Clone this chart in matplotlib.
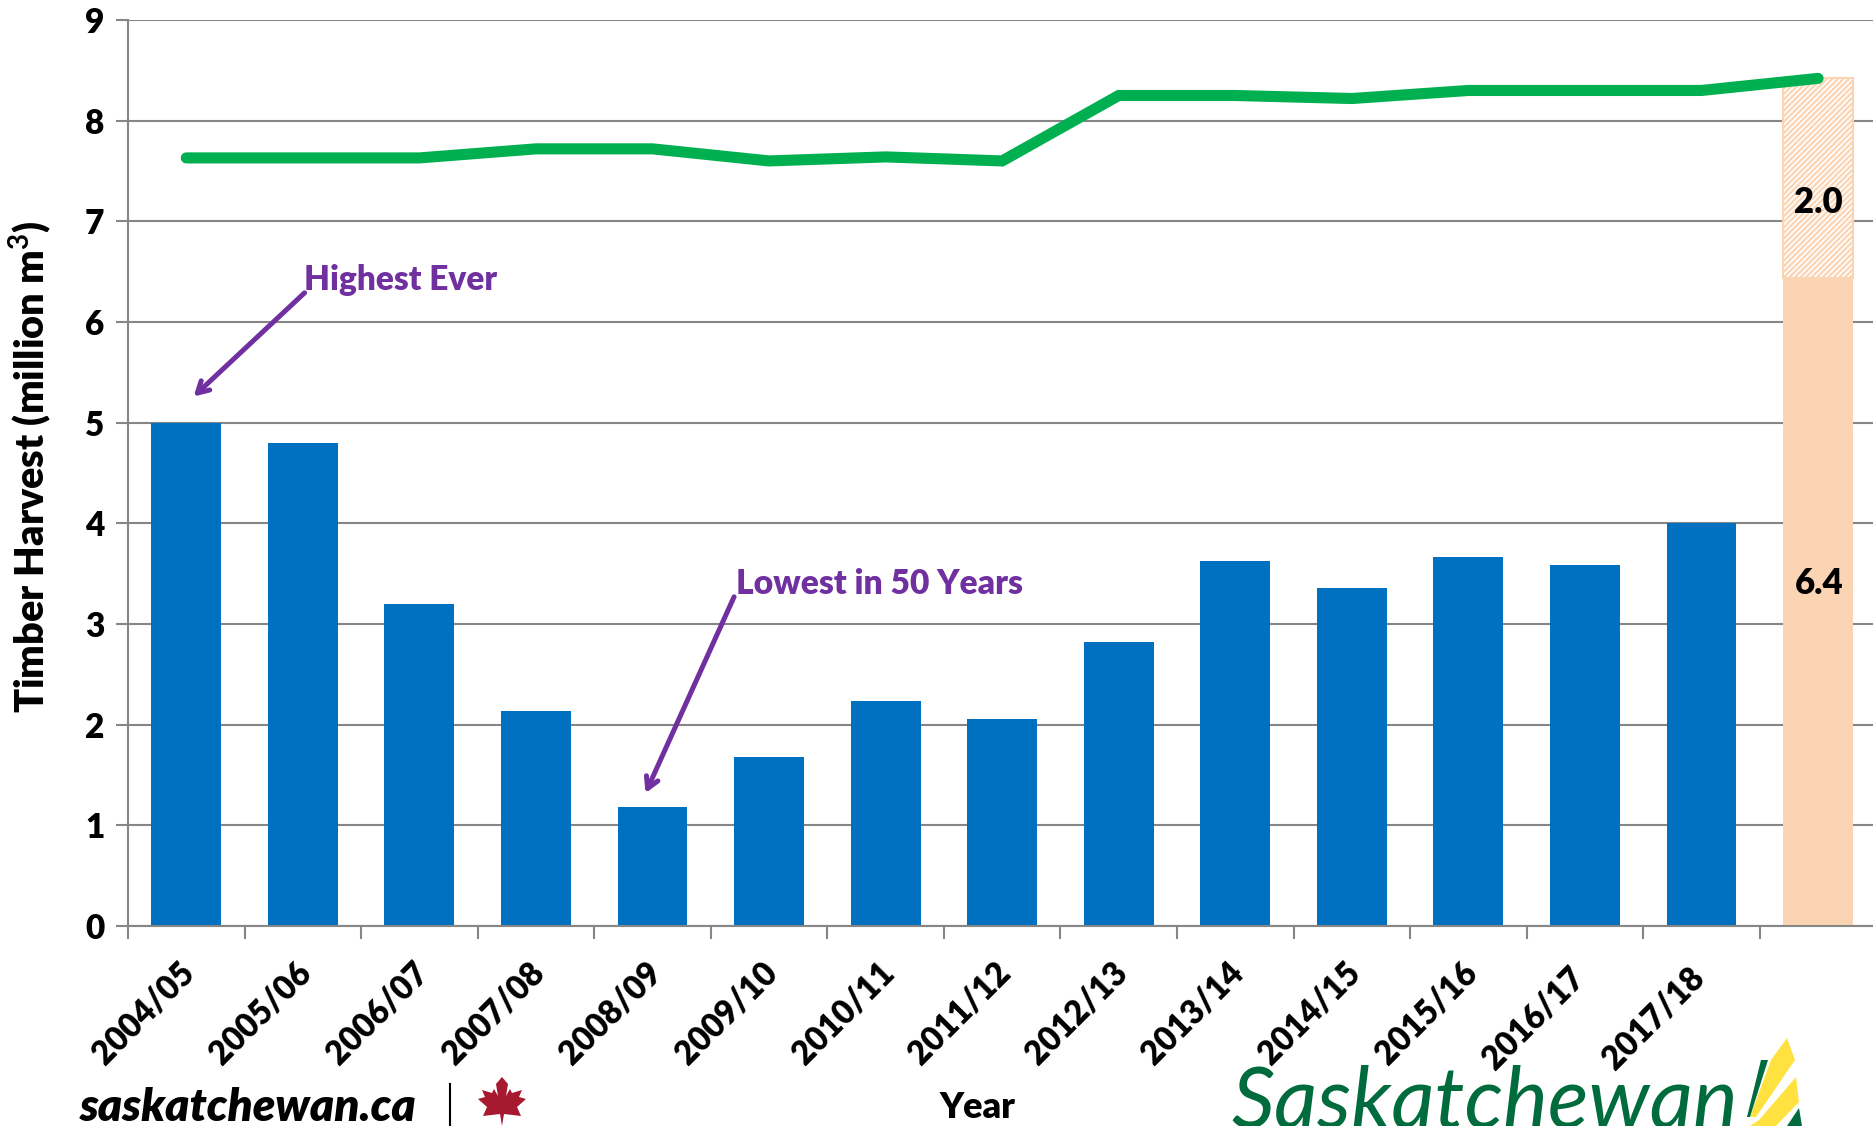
import matplotlib
matplotlib.use("Agg")
import matplotlib.pyplot as plt
from matplotlib.patches import Polygon
from matplotlib.transforms import ScaledTranslation

plt.rcParams['font.family'] = ['Lato', 'DejaVu Sans']
plt.rcParams['hatch.linewidth'] = 1.6
plt.rcParams['mathtext.fontset'] = 'custom'
plt.rcParams['mathtext.bf'] = 'Lato:bold'

years = ['2004/05','2005/06','2006/07','2007/08','2008/09','2009/10','2010/11',
         '2011/12','2012/13','2013/14','2014/15','2015/16','2016/17','2017/18']
harvest = [5.0,4.8,3.2,2.14,1.18,1.68,2.24,2.06,2.82,3.63,3.36,3.67,3.59,4.0]
aac = [7.63,7.63,7.63,7.72,7.72,7.6,7.64,7.6,8.25,8.25,8.22,8.3,8.3,8.3,8.42]
plan_base = [6.44]
plan_extra = [1.98]
label_dx = [-8]*12 + [-17, -14]
label_dy = [0]*12 + [-5, -5]

W, H = 1874, 1126
fig = plt.figure(figsize=(W/100, H/100), dpi=100, facecolor='white')
x0, x1, ytop, ybot = 128, 1874, 20, 926
ax = fig.add_axes([x0/W, 1-ybot/H, (x1-x0)/W, (ybot-ytop)/H])
GREY = '#868686'
BLUE = '#0070C0'
PEACH = '#FBD4B4'
PURPLE = '#7030A0'
WT = 800

ax.set_xlim(-0.5, 14.48)
ax.set_ylim(0, 9)
ax.set_yticks(range(10))
ax.grid(axis='y', color=GREY, lw=1.5, zorder=0)
ax.set_axisbelow(True)
ax.bar(range(14), harvest, width=0.6, color=BLUE, zorder=2)
ax.bar([14], plan_base, width=0.6, color=PEACH, zorder=2)
ax.bar([14], plan_extra, bottom=plan_base, width=0.6, facecolor='white',
       edgecolor=PEACH, hatch='//////', lw=1.5, zorder=2)
ax.plot(range(15), aac, color='#00B050', lw=8, solid_capstyle='round',
        solid_joinstyle='miter', zorder=3)

for s in ('top', 'right'):
    ax.spines[s].set_visible(False)
for s in ('left', 'bottom'):
    ax.spines[s].set_color(GREY)
    ax.spines[s].set_linewidth(1.5)

ax.set_xticks([i-0.5 for i in range(15)])
ax.set_xticklabels([])
ax.tick_params(axis='x', which='major', length=9, width=1.5, color=GREY)
ax.tick_params(axis='y', length=9, width=1.5, color=GREY, labelsize=24, pad=8)
for t in ax.get_yticklabels():
    t.set_fontweight(WT)

ax.set_xticks(range(14), minor=True)
ax.set_xticklabels(years, minor=True, rotation=45, ha='right', va='top',
                   rotation_mode='anchor', fontsize=23.5, fontweight=WT)
ax.tick_params(axis='x', which='minor', length=0, pad=22)
for t, dx, dy in zip(ax.get_xticklabels(minor=True), label_dx, label_dy):
    t.set_transform(t.get_transform() + ScaledTranslation(dx/100, dy/100, fig.dpi_scale_trans))

ax.set_ylabel('Timber Harvest (million m$^{\\mathbf{3}}$)', fontsize=28.5, fontweight=WT)
ax.yaxis.set_label_coords(-0.0425, 0.507)

ax.text(14, 7.19, '2.0', ha='center', va='center', fontsize=25, fontweight=WT, zorder=5)
ax.text(14.01, 3.40, '6.4', ha='center', va='center', fontsize=25, fontweight=WT, zorder=5)
ax.text(1.01, 6.42, 'Highest Ever', color=PURPLE, fontsize=24, fontweight=WT, va='center')
ax.text(4.72, 3.40, 'Lowest in 50 Years', color=PURPLE, fontsize=24.2, fontweight=WT, va='center')
arrow = dict(arrowstyle='->,head_length=0.8,head_width=0.45', color=PURPLE, lw=3.6, shrinkA=0, shrinkB=0)
ax.annotate('', xy=(0.063, 5.26), xytext=(1.015, 6.29), arrowprops=arrow)
ax.annotate('', xy=(3.94, 1.32), xytext=(4.70, 3.27), arrowprops=arrow)

# footer
def ft(x, y):
    return x/W, 1-y/H
fig.text(*ft(977, 1108), 'Year', ha='center', va='center', fontsize=26, fontweight=WT)
fig.text(*ft(80, 1108), 'saskatchewan.ca', ha='left', va='center', fontsize=33,
         fontweight=WT, fontstyle='italic')
fig.add_artist(plt.Line2D([450/W, 450/W], [1-1084/H, 1-1126/H], color='black', lw=1.5))
fig.text(*ft(1231, 1128), 'Saskatchewan', ha='left', va='baseline', fontsize=61,
         family=['Liberation Sans Narrow', 'Lato'], fontstyle='italic', color='#006B3C')

leaf = [(0,-22),(-2,-10),(-19,-12),(-15,-3),(-24,5),(-17,7),(-20,14),(-10,11),(-8,15),(-4,8),(-6,20),(0,27),
        (6,20),(4,8),(8,15),(10,11),(20,14),(17,7),(24,5),(15,-3),(19,-12),(2,-10)]
fig.add_artist(Polygon([ft(502+a, 1104-b) for a, b in leaf], closed=True,
                       transform=fig.transFigure, color='#A6192E', lw=0))
sheaf = [
    ([(1787,1038),(1795,1060),(1756,1117),(1750,1117),(1771,1060)], '#FFE23F'),
    ([(1796,1077),(1799,1102),(1776,1126),(1750,1126),(1759,1120)], '#FFE23F'),
    ([(1761,1060),(1768,1060),(1750,1117),(1747,1117)], '#006B3C'),
    ([(1799,1108),(1802,1126),(1787,1126)], '#006B3C'),
]
for pts, c in sheaf:
    fig.add_artist(Polygon([ft(a, b) for a, b in pts], closed=True,
                           transform=fig.transFigure, color=c, lw=0))

fig.savefig('out.png', dpi=100)
